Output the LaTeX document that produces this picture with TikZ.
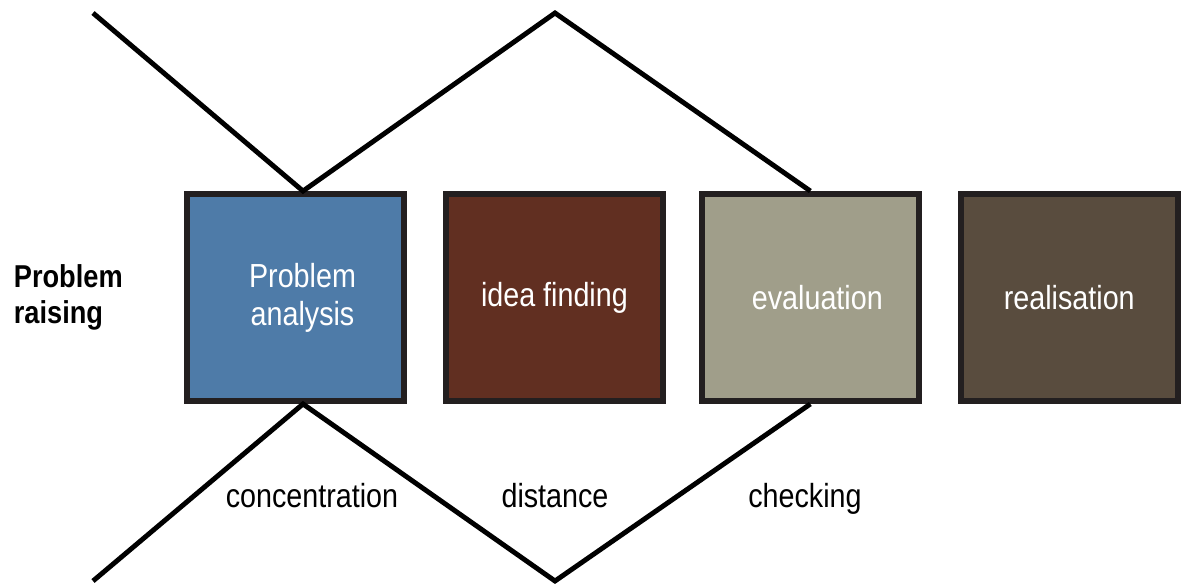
\documentclass[tikz,border=0pt]{standalone}
\usepackage{fontspec}
\setmainfont{Liberation Sans}[FakeStretch=0.86]
\usetikzlibrary{positioning}

\definecolor{analysisblue}{HTML}{4E7BA8}
\definecolor{ideabrown}{HTML}{612F21}
\definecolor{evalgrey}{HTML}{A09E8A}
\definecolor{realbrown}{HTML}{594C3E}
\definecolor{boxframe}{HTML}{231F20}

\tikzset{
  phase/.style={draw=boxframe, line width=3.4pt, minimum width=4.34cm,
    minimum height=4.14cm, inner sep=0pt, text=white, align=center,
    font=\fontsize{19}{21.5}\selectfont},
  zigzag/.style={line width=2.8pt},
  lbl/.style={inner sep=0pt, anchor=base, font=\fontsize{19}{21.5}\selectfont}
}

\begin{document}
\begin{tikzpicture}[x=0.02cm, y=-0.02cm]
    \useasboundingbox (0,0) rectangle (1183,583);
    % the four phases
    \node[phase, fill=analysisblue] (pa) at (295.5,297.5)
      {\hspace*{0.28cm}Problem\\\hspace*{0.28cm}analysis};
    \node[phase, fill=ideabrown, right=0.72cm of pa] (idea) {idea finding};
    \node[phase, fill=evalgrey, right=0.66cm of idea] (eval)
      {\hspace*{0.28cm}evaluation};
    \node[phase, fill=realbrown, right=0.72cm of eval] (real) {realisation};
    \node[inner sep=0pt, font=\fontsize{18}{20.4}\selectfont\bfseries,
      align=left, left=1.22cm of pa] (raise) {Problem\\raising};
    % zigzag lines
    \coordinate (topl) at (93,13);
    \coordinate (topp) at (555,13);
    \coordinate (botl) at (93,581);
    \coordinate (botv) at (555,581);
    \draw[zigzag] (topl) -- ([xshift=0.15cm]pa.north) -- (topp) -- (eval.north);
    \draw[zigzag] (botl) -- ([xshift=0.15cm]pa.south) -- (botv) -- (eval.south);
    % labels below
    \node[lbl] (conc) at (312,507) {concentration};
    \node[lbl] (dist) at (555,507) {distance};
    \node[lbl] (check) at (805,507) {checking};
\end{tikzpicture}
\end{document}
